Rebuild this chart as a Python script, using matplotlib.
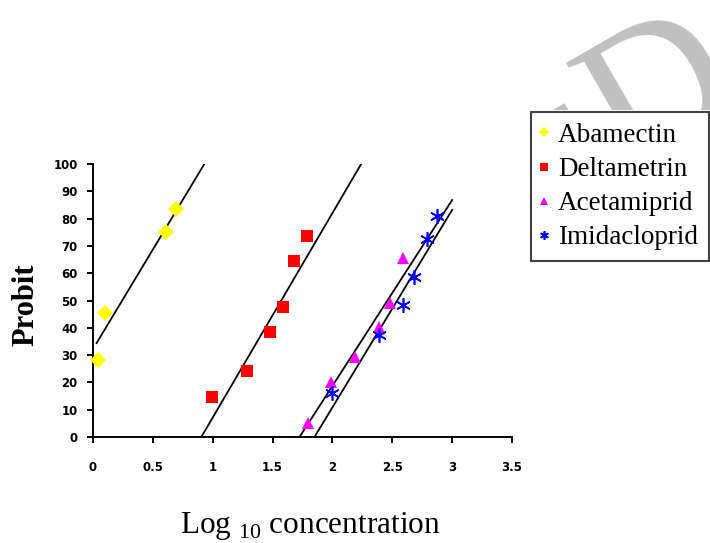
import matplotlib
matplotlib.use("Agg")
import matplotlib.pyplot as plt
from matplotlib.patches import Rectangle

plt.rcParams['mathtext.fontset'] = 'custom'
plt.rcParams['mathtext.rm'] = 'Liberation Serif'

# 数据 (log10 浓度, probit)
abamectin_x = [0.04, 0.10, 0.61, 0.69]
abamectin_y = [28.2, 45.3, 75.2, 83.4]
deltametrin_x = [0.99, 1.29, 1.48, 1.59, 1.68, 1.79]
deltametrin_y = [14.8, 24.3, 38.6, 47.7, 64.5, 73.6]
acetamiprid_x = [1.80, 1.99, 2.19, 2.39, 2.48, 2.59]
acetamiprid_y = [5.0, 20.3, 29.4, 40.4, 49.2, 65.5]
imidacloprid_x = [2.00, 2.39, 2.59, 2.68, 2.79, 2.87]
imidacloprid_y = [16.0, 37.4, 48.4, 58.7, 72.4, 81.0]

# 回归线
abamectin_line_x = [0.03, 0.93]
abamectin_line_y = [34.4, 100]
deltametrin_line_x = [0.905, 2.24]
deltametrin_line_y = [0, 100]
acetamiprid_line_x = [1.725, 3.0]
acetamiprid_line_y = [0, 86.8]
imidacloprid_line_x = [1.85, 3.0]
imidacloprid_line_y = [0, 83.2]

xticks = [0, 0.5, 1, 1.5, 2, 2.5, 3, 3.5]
xticklabels = ['0', '0.5', '1', '1.5', '2', '2.5', '3', '3.5']
yticks = list(range(0, 101, 10))

fig = plt.figure(figsize=(7.1, 5.43), dpi=100)

# 水印 (只在图片上方露出)
wm = dict(fontsize=140, color='#c0c0c0', family='Liberation Serif', rotation=30,
          ha='center', va='center', rotation_mode='anchor', zorder=-3)
fig.text(662 / 710, 1 - 98 / 543, 'D', **wm)
fig.text(568 / 710, 1 - 192 / 543, 'E', **wm)
fig.patches.append(Rectangle((0, 0), 1, 1 - 110 / 543, transform=fig.transFigure,
                             facecolor='white', edgecolor='none', zorder=-2))

ax = fig.add_axes([93 / 710, 1 - 437 / 543, 419 / 710, 273 / 543])
ax.patch.set_alpha(0)

for lx, ly in [(abamectin_line_x, abamectin_line_y),
               (deltametrin_line_x, deltametrin_line_y),
               (acetamiprid_line_x, acetamiprid_line_y),
               (imidacloprid_line_x, imidacloprid_line_y)]:
    ax.plot(lx, ly, color='black', lw=1.3, zorder=2)

ax.plot(abamectin_x, abamectin_y, 'D', color='#ffff00', ms=8, mew=0,
        label='Abamectin', clip_on=False, zorder=3)
ax.plot(deltametrin_x, deltametrin_y, 's', color='#ff0000', ms=8.5, mew=0,
        label='Deltametrin', clip_on=False, zorder=3)
ax.plot(acetamiprid_x, acetamiprid_y, '^', color='#ff00ff', ms=9, mew=0,
        label='Acetamiprid', clip_on=False, zorder=3)
ax.plot(imidacloprid_x, imidacloprid_y, marker=(6, 2, 0), ls='none', color='#0000ff',
        ms=10.5, mew=1.2, label='Imidacloprid', clip_on=False, zorder=3)

ax.set_xlim(0, 3.5)
ax.set_ylim(0, 100)
ax.set_xticks(xticks)
ax.set_xticklabels(xticklabels)
ax.set_yticks(yticks)
for s in ['top', 'right']:
    ax.spines[s].set_visible(False)
for s in ['left', 'bottom']:
    ax.spines[s].set_linewidth(1.4)
ax.tick_params(axis='both', direction='out', length=4, width=1.4)
ax.tick_params(axis='x', pad=13)
ax.tick_params(axis='y', pad=7)
for t in ax.get_xticklabels() + ax.get_yticklabels():
    t.set_fontweight('bold')
    t.set_fontsize(8.5)
    t.set_family('DejaVu Sans')

fig.text(26 / 710, 1 - 305 / 543, 'Probit', rotation=90, ha='center', va='center',
         family='Liberation Serif', fontweight='bold', fontsize=22)
fig.text(310 / 710, 1 - 533 / 543, r'Log $_{10}$ concentration', ha='center',
         va='baseline', family='Liberation Serif', fontsize=22.5)

leg = fig.legend(loc='upper left', bbox_to_anchor=(531 / 710, 1 - 112 / 543),
                 prop={'family': 'Liberation Serif', 'size': 19.5},
                 markerscale=0.6, handlelength=0.15, handletextpad=0.45,
                 borderpad=0.4, labelspacing=0.34, borderaxespad=0,
                 fancybox=False, framealpha=1)
leg.get_frame().set_edgecolor('#404040')
leg.get_frame().set_linewidth(1.5)

fig.savefig('out.png', dpi=100)
